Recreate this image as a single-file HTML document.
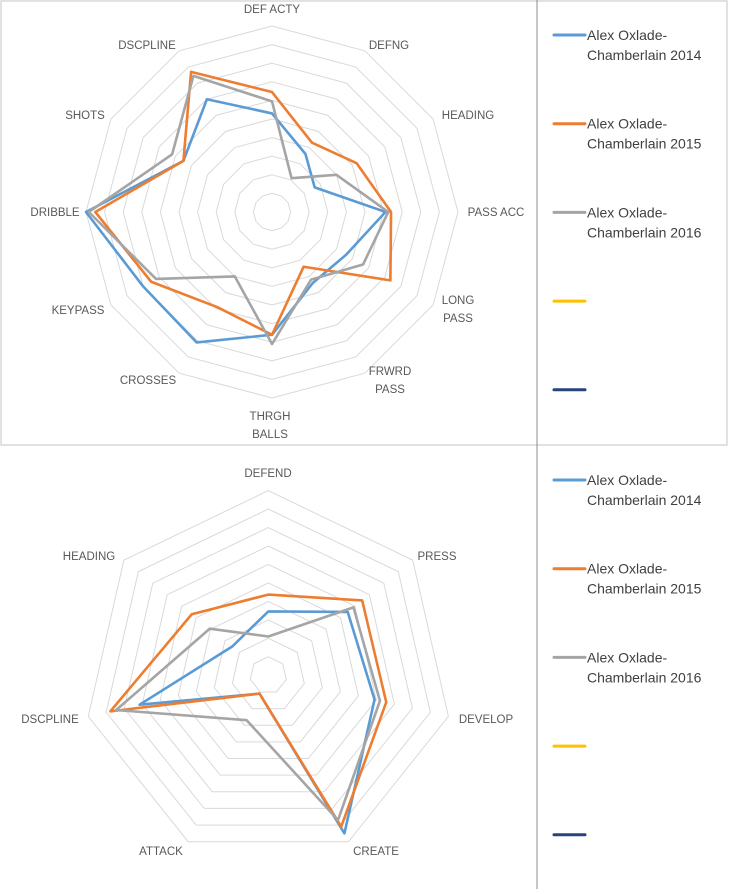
<!DOCTYPE html>
<html><head><meta charset="utf-8"><style>
body{margin:0;background:#fff;width:730px;height:889px;overflow:hidden;font-family:"Liberation Sans",sans-serif}
svg text{font-family:"Liberation Sans",sans-serif}
</style></head><body>
<svg id="s" width="730" height="889" viewBox="0 0 730 889">
<rect x="1" y="1" width="726" height="444" fill="none" stroke="#d9d9d9" stroke-width="1.5"/>
<line x1="537" y1="0" x2="537" y2="889" stroke="#8c8c8c" stroke-width="1"/>
</svg>
<script>
const topAxes=["DEF ACTY","DEFNG","HEADING","PASS ACC","LONG PASS","FRWRD PASS","THRGH BALLS","CROSSES","KEYPASS","DRIBBLE","SHOTS","DSCPLINE"];
const top2014=[5.3,3.6,2.65,6.1,4.6,4.4,6.6,8.1,8.0,10.0,5.5,7.0];
const top2015=[6.45,4.3,5.25,6.4,7.35,3.4,6.6,5.9,7.5,9.5,5.5,8.7];
const top2016=[5.95,2.1,4.0,6.25,5.65,4.2,7.1,4.0,7.2,9.85,6.2,8.45];
const botAxes=["DEFEND","PRESS","DEVELOP","CREATE","ATTACK","DSCPLINE","HEADING"];
const bot2014=[3.46,5.5,5.9,9.5,1.1,7.15,2.5];
const bot2015=[4.37,6.5,6.55,9.1,1.1,8.77,5.3];
const bot2016=[2.1,5.9,6.2,8.7,2.7,8.45,4.05];
const seriesNames=["Alex Oxlade-Chamberlain 2014","Alex Oxlade-Chamberlain 2015","Alex Oxlade-Chamberlain 2016","",""];
const maxVal=10;
const NS="http://www.w3.org/2000/svg";
const svg=document.getElementById('s');
const colors=["#5b9bd5","#ed7d31","#a5a5a5","#ffc000","#264478"];
function mk(t,a){const e=document.createElementNS(NS,t);for(const k in a)e.setAttribute(k,a[k]);svg.appendChild(e);return e;}
function pt(cx,cy,R,n,i,v){const a=i*2*Math.PI/n;const r=R*v/maxVal;return [cx+r*Math.sin(a),cy-r*Math.cos(a)];}
function radar(id,cx,cy,R,axes,series,labelPos){
  const n=axes.length;
  for(let k=1;k<=10;k++){
    const p=axes.map((_,i)=>pt(cx,cy,R,n,i,k).join(',')).join(' ');
    const g=mk('polygon',{points:p,fill:'none',stroke:'#d9d9d9','stroke-width':1});
    
    
  }
  series.forEach((vals,si)=>{
    const p=vals.map((v,i)=>pt(cx,cy,R,n,i,v).join(',')).join(' ');
    const l=mk('polygon',{points:p,fill:'none',stroke:colors[si],'stroke-width':2.6,'stroke-linejoin':'round'});
    
    
  });
  axes.forEach((name,i)=>{
    const [x,y]=labelPos[i];
    const words=name.split(' ');
    const lines=(words.length>1&&labelPos[i][2])?words:[name];
    const t=mk('text',{x:x,y:y,'text-anchor':'middle','font-size':11.5,fill:'#595959'});
    
    
    lines.forEach((w,j)=>{const s=document.createElementNS(NS,'tspan');s.setAttribute('x',x);s.setAttribute('dy',j?18:0);s.textContent=w;t.appendChild(s);});
  });
}
function legend(y0){
  seriesNames.forEach((nm,i)=>{
    const y=y0+i*88.7;
    const l=mk('line',{x1:554,y1:y,x2:585,y2:y,stroke:colors[i],'stroke-width':3,'stroke-linecap':'round'});
    
    
    if(nm){
      const t=mk('text',{x:587,y:y+5,'font-size':14,fill:'#404040'});
      
      
      const a=document.createElementNS(NS,'tspan');a.setAttribute('x',587);a.textContent='Alex Oxlade-';t.appendChild(a);
      const b=document.createElementNS(NS,'tspan');b.setAttribute('x',587);b.setAttribute('dy',20);b.textContent=nm.replace('Alex Oxlade-','');t.appendChild(b);
    }
  });
}
radar('top-radar',272,212,186,topAxes,[top2014,top2015,top2016],
 [[272,13],[389,49],[468,119],[496,216],[458,304,1],[390,375,1],[270,420,1],[148,384],[78,314],[55,216],[85,119],[147,49]]);
radar('bottom-radar',268.3,675.3,184.7,botAxes,[bot2014,bot2015,bot2016],
 [[268,477],[437,560],[486,723],[376,855],[161,855],[50,723],[89,560]]);
legend(35);
legend(480);
</script>
</body></html>
